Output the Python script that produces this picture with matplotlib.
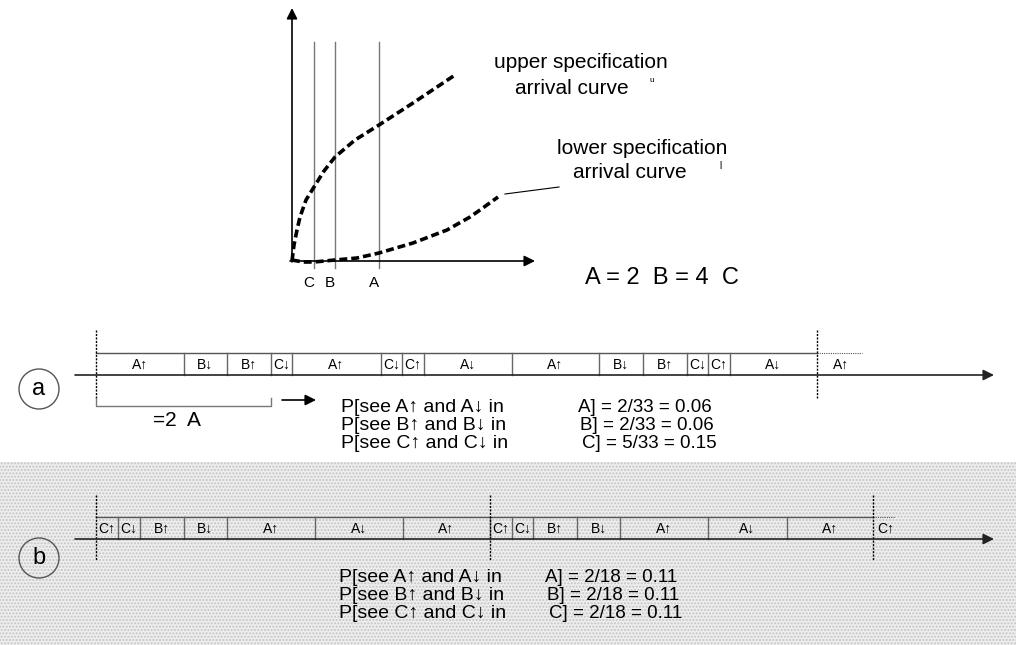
import matplotlib.pyplot as plt
from matplotlib.patches import Circle, Rectangle

plt.rcParams['font.family'] = ['Liberation Sans', 'DejaVu Sans']

# curves of the top sketch (pixel coords, y grows downwards)
upper_x = [292, 294, 297, 300, 306, 314, 324, 335, 355, 379, 413, 455]
upper_y = [261, 245, 230, 217, 200, 187, 171, 157, 140, 125, 103, 75]
lower_x = [292, 303, 314, 335, 357, 379, 413, 447, 470, 480, 498]
lower_y = [260, 262, 262, 260, 258, 253, 243, 230, 217, 210, 197]

# interval markers C, B, A
mark_x = [314, 335, 379]
mark_labels = ['C', 'B', 'A']

# timeline (a)
edges_a = [96, 184, 227, 271, 292, 381, 402, 424, 512, 599, 643, 687, 708, 730, 817]
labels_a = ['A↑', 'B↓', 'B↑', 'C↓', 'A↑', 'C↓', 'C↑', 'A↓', 'A↑', 'B↓', 'B↑', 'C↓', 'C↑', 'A↓']
tail_a = (817, 862, 'A↑')
prob_left_a = ['P[see A↑ and A↓ in', 'P[see B↑ and B↓ in', 'P[see C↑ and C↓ in']
prob_right_a = ['A] = 2/33 = 0.06', 'B] = 2/33 = 0.06', 'C] = 5/33 = 0.15']

# timeline (b)
edges_b = [96, 118, 140, 184, 227, 315, 403, 490, 512, 533, 577, 620, 708, 787, 873]
labels_b = ['C↑', 'C↓', 'B↑', 'B↓', 'A↑', 'A↓', 'A↑', 'C↑', 'C↓', 'B↑', 'B↓', 'A↑', 'A↓', 'A↑']
tail_b = (873, 895, 'C↑')
prob_left_b = ['P[see A↑ and A↓ in', 'P[see B↑ and B↓ in', 'P[see C↑ and C↓ in']
prob_right_b = ['A] = 2/18 = 0.11', 'B] = 2/18 = 0.11', 'C] = 2/18 = 0.11']

fig = plt.figure(figsize=(10.16, 6.45), dpi=100)
ax = fig.add_axes([0, 0, 1, 1])
ax.set_xlim(0, 1016)
ax.set_ylim(645, 0)
ax.axis('off')

arrow = dict(arrowstyle='-|>', color='black', lw=1.2, mutation_scale=16, shrinkA=0, shrinkB=0)

# ---- top sketch
ax.annotate('', xy=(292, 8), xytext=(292, 262), arrowprops=arrow)
ax.annotate('', xy=(535, 261), xytext=(290, 261), arrowprops=arrow)
for x, lab in zip(mark_x, mark_labels):
    ax.plot([x, x], [42, 268], color='#777777', lw=1)
    ax.text(x - 5, 283, lab, ha='center', va='center', fontsize=11)
ax.plot(upper_x, upper_y, color='black', lw=2.6, ls=(0, (2.2, 1.1)))
ax.plot(lower_x, lower_y, color='black', lw=2.6, ls=(0, (2.2, 1.1)))
ax.plot([505, 559], [194, 187], color='black', lw=0.8)

ax.text(581, 63, 'upper specification', ha='center', va='center', fontsize=15)
ax.text(572, 88, 'arrival curve', ha='center', va='center', fontsize=15)
ax.text(652, 80, 'u', ha='center', va='center', fontsize=6)
ax.text(642, 148, 'lower specification', ha='center', va='center', fontsize=15)
ax.text(630, 173, 'arrival curve', ha='center', va='center', fontsize=15)
ax.text(720, 166, 'l', ha='center', va='center', fontsize=7)
ax.text(662, 278, 'A = 2  B = 4  C', ha='center', va='center', fontsize=17)

# ---- shaded band behind (b)
ax.add_patch(Rectangle((0, 462), 1016, 183, facecolor='#eeeeee', edgecolor='#c4c4c4',
                       hatch='.....', lw=0, zorder=0))


def timeline(y_axis, top, edges, labels, tail, dashes, dash_span):
    ax.annotate('', xy=(994, y_axis), xytext=(75, y_axis),
                arrowprops=dict(arrowstyle='-|>', color='#222222', lw=1.2,
                                mutation_scale=16, shrinkA=0, shrinkB=0))
    ax.plot([edges[0], edges[-1]], [top, top], color='#555555', lw=1)
    for x in edges[1:-1]:
        ax.plot([x, x], [top, y_axis], color='#666666', lw=1)
    for i, lab in enumerate(labels):
        ax.text((edges[i] + edges[i + 1]) / 2, (top + y_axis) / 2 + 1, lab,
                ha='center', va='center', fontsize=10)
    ax.plot([tail[0], tail[1]], [top, top], color='#555555', lw=0.8, ls=(0, (1, 1)))
    ax.text((tail[0] + tail[1]) / 2 + 2, (top + y_axis) / 2 + 1, tail[2],
            ha='center', va='center', fontsize=10)
    for x in dashes:
        ax.plot([x, x], dash_span, color='black', lw=1, ls=(0, (1.5, 1)))


timeline(375, 353, edges_a, labels_a, tail_a, [96, 817], [330, 398])
timeline(539, 517, edges_b, labels_b, tail_b, [96, 490, 873], [495, 560])

# bracket under (a)
ax.plot([96, 96, 271, 271], [398, 406, 406, 398], color='#777777', lw=1)
ax.annotate('', xy=(316, 400), xytext=(282, 400), arrowprops=arrow)
ax.text(177, 421, '=2  A', ha='center', va='center', fontsize=15)

# circled letters
for cy, letter in [(389, 'a'), (558, 'b')]:
    ax.add_patch(Circle((39, cy), 20, facecolor='none', edgecolor='#555555', lw=1))
    ax.text(39, cy, letter, ha='center', va='center', fontsize=17)

# probabilities
for i in range(3):
    ax.text(341, 407 + 18 * i, prob_left_a[i], ha='left', va='center', fontsize=14)
    ax.text(578 + 2 * i, 407 + 18 * i, prob_right_a[i], ha='left', va='center', fontsize=13.5)
    ax.text(339, 577 + 18 * i, prob_left_b[i], ha='left', va='center', fontsize=14)
    ax.text(545 + 2 * i, 577 + 18 * i, prob_right_b[i], ha='left', va='center', fontsize=13.5)

plt.savefig('out.png', dpi=100)
